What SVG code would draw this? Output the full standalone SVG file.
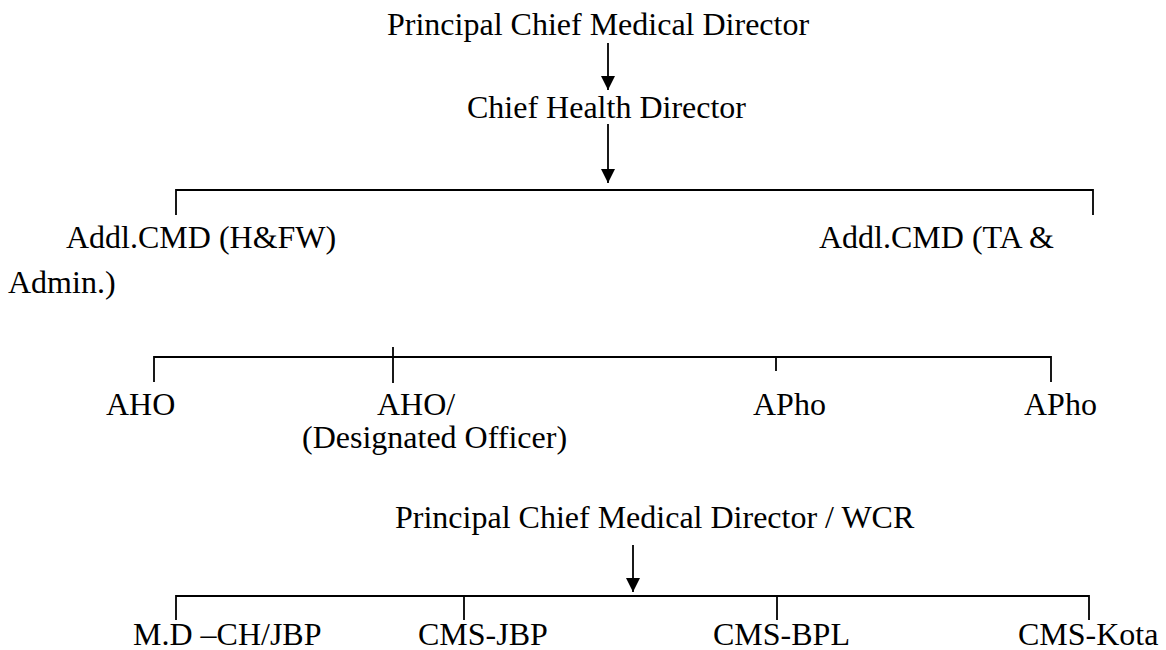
<svg xmlns="http://www.w3.org/2000/svg" width="1166" height="650" viewBox="0 0 1166 650">
<style>
text{font-family:"Liberation Serif","Times New Roman",serif;font-size:32px;fill:#000}
.ln{stroke:#000;stroke-width:1.8;fill:none}
</style>
<defs>
<marker id="ah" viewBox="0 0 14 16" refX="14" refY="7" markerWidth="14" markerHeight="16" markerUnits="userSpaceOnUse" orient="auto">
<path d="M0,0 L14,7 L0,14 Z" fill="#000"/>
</marker>
</defs>
<rect width="1166" height="650" fill="#fff"/>
<g id="n-pcmd"><text x="387" y="35">Principal Chief Medical Director</text></g>
<g id="n-chd"><text x="467" y="118">Chief Health Director</text></g>
<g id="n-addl-hfw"><text x="66" y="248">Addl.CMD (H&amp;FW)</text></g>
<g id="n-addl-ta"><text x="819" y="248">Addl.CMD (TA &amp;</text><text x="8" y="293">Admin.)</text></g>
<g id="n-aho1"><text x="106" y="415">AHO</text></g>
<g id="n-aho2"><text x="377" y="415">AHO/</text><text x="302" y="448">(Designated Officer)</text></g>
<g id="n-apho1"><text x="753" y="415">APho</text></g>
<g id="n-apho2"><text x="1024" y="415">APho</text></g>
<g id="n-pcmd-wcr"><text x="395" y="528">Principal Chief Medical Director / WCR</text></g>
<g id="n-md"><text x="133" y="645">M.D –CH/JBP</text></g>
<g id="n-cms-jbp"><text x="418" y="645">CMS-JBP</text></g>
<g id="n-cms-bpl"><text x="713" y="645">CMS-BPL</text></g>
<g id="n-cms-kota"><text x="1018" y="645">CMS-Kota</text></g>
<g id="connectors">
<line class="ln" x1="608" y1="43" x2="608" y2="90" marker-end="url(#ah)"/>
<line class="ln" x1="608" y1="124" x2="608" y2="183" marker-end="url(#ah)"/>
<polyline class="ln" points="176,215 176,190 1093,190 1093,215"/>
<polyline class="ln" points="154,382 154,357 1051,357 1051,382"/>
<line class="ln" x1="393" y1="347" x2="393" y2="383"/>
<line class="ln" x1="776" y1="357" x2="776" y2="371"/>
<line class="ln" x1="633" y1="545" x2="633" y2="592" marker-end="url(#ah)"/>
<polyline class="ln" points="176,620 176,596 1089,596 1089,620"/>
<line class="ln" x1="464" y1="596" x2="464" y2="620"/>
<line class="ln" x1="777" y1="596" x2="777" y2="620"/>
</g>
</svg>
